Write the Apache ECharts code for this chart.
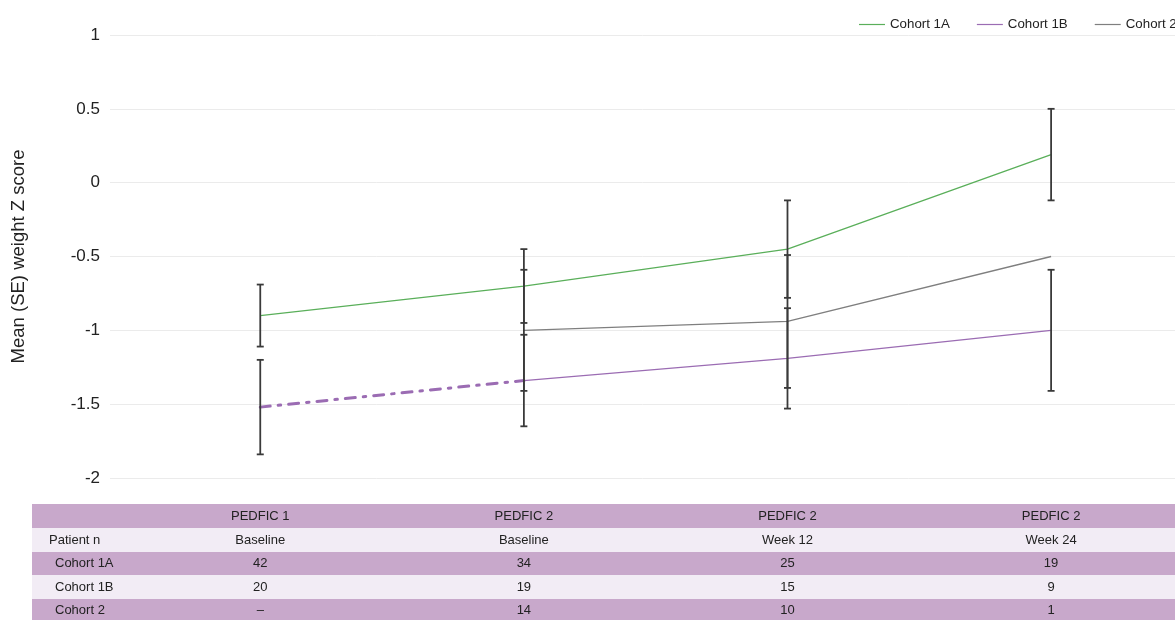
<!DOCTYPE html>
<html>
<head>
<meta charset="utf-8">
<script src="https://cdn.jsdelivr.net/npm/echarts@6/dist/echarts.min.js"></script>
<style>
  html, body { margin: 0; padding: 0; background: #ffffff; }
  #chart { width: 1175px; height: 620px; }
</style>
</head>
<body>
<div id="chart"></div>
<script>
// Visits (x positions are their indices)
const studies = ['PEDFIC 1', 'PEDFIC 2', 'PEDFIC 2', 'PEDFIC 2'];
const visits = ['Baseline', 'Baseline', 'Week 12', 'Week 24'];

// Mean weight Z score and standard error per cohort (null = no data)
const cohort1AMean = [-0.90, -0.70, -0.45, 0.19];
const cohort1ASE   = [0.21, 0.25, 0.33, 0.31];
const cohort1BMean = [-1.52, -1.34, -1.19, -1.00];
const cohort1BSE   = [0.32, 0.31, 0.34, 0.41];
const cohort2Mean  = [null, -1.00, -0.94, -0.50];
const cohort2SE    = [null, 0.41, 0.45, null];

// Patient numbers per visit
const cohortNames = ['Cohort 1A', 'Cohort 1B', 'Cohort 2'];
const patientN = [
  ['42', '34', '25', '19'],
  ['20', '19', '15', '9'],
  ['\u2013', '14', '10', '1']
];

// Y axis ticks
const yMin = -2, yMax = 1, yStep = 0.5;

const colors = { c1A: '#5aaf5a', c1B: '#9b6cb3', c2: '#7f7f7f' };
const FONT = '"Liberation Sans", Arial, sans-serif';

function toPoints(means, from, to) {
  const pts = [];
  for (let i = from; i <= to; i++) {
    if (means[i] !== null) pts.push([i, means[i]]);
  }
  return pts;
}
function toBars(means, ses) {
  const out = [];
  means.forEach((m, i) => {
    if (m !== null && ses[i] !== null) out.push([i, m - ses[i], m + ses[i]]);
  });
  return out;
}
const errorData = []
  .concat(toBars(cohort1AMean, cohort1ASE))
  .concat(toBars(cohort1BMean, cohort1BSE))
  .concat(toBars(cohort2Mean, cohort2SE));

const chart = echarts.init(document.getElementById('chart'), null, { renderer: 'canvas' });

const option = {
  animation: false,
  textStyle: { fontFamily: FONT },
  legend: {
    data: ['Cohort 1A', 'Cohort 1B', 'Cohort 2'],
    left: 859,
    top: 18,
    width: 400,
    padding: 0,
    icon: 'rect',
    itemWidth: 26,
    itemHeight: 1.2,
    itemGap: 27,
    textStyle: { fontSize: 13.3, color: '#222', fontFamily: FONT }
  },
  grid: { left: 110, right: 0, top: 35, bottom: 142, containLabel: false },
  xAxis: {
    type: 'value',
    min: -0.57,
    max: 3.47,
    show: false
  },
  yAxis: {
    type: 'value',
    min: yMin,
    max: yMax,
    interval: yStep,
    name: 'Mean (SE) weight Z score',
    nameLocation: 'middle',
    nameGap: 82,
    nameTextStyle: { fontSize: 18.5, color: '#222', fontFamily: FONT },
    axisLine: { show: false },
    axisTick: { show: false },
    axisLabel: { fontSize: 17, color: '#222', margin: 10, fontFamily: FONT },
    splitLine: { lineStyle: { color: '#ebebeb', width: 1 } }
  },
  series: [
    {
      name: 'Cohort 1A', type: 'line', symbol: 'none',
      data: toPoints(cohort1AMean, 0, 3),
      lineStyle: { color: colors.c1A, width: 1.3 },
      itemStyle: { color: colors.c1A }, z: 2
    },
    {
      name: 'Cohort 1B', type: 'line', symbol: 'none',
      data: toPoints(cohort1BMean, 1, 3),
      lineStyle: { color: colors.c1B, width: 1.3 },
      itemStyle: { color: colors.c1B }, z: 2
    },
    {
      // PEDFIC 1 to PEDFIC 2 transition for cohort 1B
      name: 'Cohort 1B transition', type: 'line', symbol: 'none',
      data: toPoints(cohort1BMean, 0, 1),
      lineStyle: { color: colors.c1B, width: 3, type: [10, 8, 2.5, 8], cap: 'round' },
      itemStyle: { color: colors.c1B }, z: 2
    },
    {
      name: 'Cohort 2', type: 'line', symbol: 'none',
      data: toPoints(cohort2Mean, 0, 3),
      lineStyle: { color: colors.c2, width: 1.3 },
      itemStyle: { color: colors.c2 }, z: 2
    },
    {
      name: 'SE', type: 'custom', z: 5,
      data: errorData,
      encode: { x: 0, y: [1, 2] },
      renderItem: function (params, api) {
        const x = api.value(0);
        const lo = api.coord([x, api.value(1)]);
        const hi = api.coord([x, api.value(2)]);
        const hw = 3.5;
        const style = { stroke: '#3a3a3a', lineWidth: 1.8 };
        return {
          type: 'group',
          children: [
            { type: 'line', shape: { x1: lo[0], y1: lo[1], x2: hi[0], y2: hi[1] }, style: style },
            { type: 'line', shape: { x1: lo[0] - hw, y1: lo[1], x2: lo[0] + hw, y2: lo[1] }, style: style },
            { type: 'line', shape: { x1: hi[0] - hw, y1: hi[1], x2: hi[0] + hw, y2: hi[1] }, style: style }
          ]
        };
      }
    }
  ]
};
chart.setOption(option);

// Patient-number table under the plot, columns aligned with the visits
function buildTable() {
  const tableLeft = 32, tableRight = 1175, top = 504;
  const rowH = [24, 24, 23, 24, 23];
  const fills = ['#c8a8cb', '#f2ecf5', '#c8a8cb', '#f2ecf5', '#c8a8cb'];
  const colX = visits.map((_, i) => chart.convertToPixel({ xAxisIndex: 0 }, i));
  const els = [];
  let y = top;
  const rows = [
    { label: '', labelX: 49, cells: studies },
    { label: 'Patient n', labelX: 49, cells: visits }
  ];
  cohortNames.forEach((c, k) => rows.push({ label: c, labelX: 55, cells: patientN[k] }));
  rows.forEach((row, r) => {
    els.push({
      type: 'rect', silent: true,
      shape: { x: tableLeft, y: y, width: tableRight - tableLeft, height: rowH[r] },
      style: { fill: fills[r] }
    });
    const cy = y + rowH[r] / 2;
    if (row.label) {
      els.push({
        type: 'text', silent: true, x: row.labelX, y: cy,
        style: { text: row.label, fill: '#222', font: '13px ' + FONT, textAlign: 'left', textVerticalAlign: 'middle' }
      });
    }
    row.cells.forEach((t, i) => {
      els.push({
        type: 'text', silent: true, x: colX[i], y: cy,
        style: { text: t, fill: '#222', font: '13px ' + FONT, textAlign: 'center', textVerticalAlign: 'middle' }
      });
    });
    y += rowH[r];
  });
  chart.setOption({ graphic: { elements: els } });
}
buildTable();
</script>
</body>
</html>
